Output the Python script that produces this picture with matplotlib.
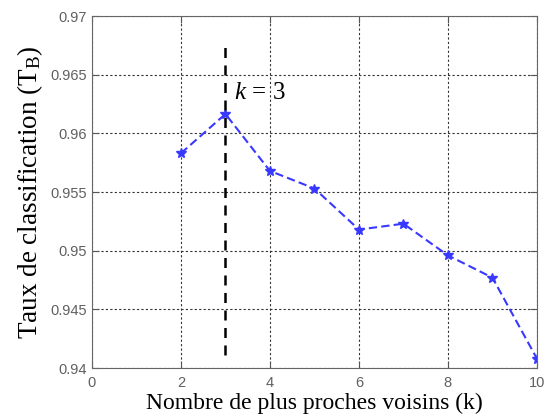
import matplotlib
matplotlib.use("Agg")
import matplotlib.pyplot as plt
import numpy as np

# valeurs
k_values = [2, 3, 4, 5, 6, 7, 8, 9, 10]
taux = [0.9583, 0.96165, 0.9568, 0.9553, 0.9518, 0.9523, 0.9496, 0.9477, 0.9408]
k_opt = 3
x_ticks = [0, 2, 4, 6, 8, 10]
y_ticks = [0.94, 0.945, 0.95, 0.955, 0.96, 0.965, 0.97]
y_tick_labels = ["0.94", "0.945", "0.95", "0.955", "0.96", "0.965", "0.97"]

plt.rcParams['mathtext.fontset'] = 'custom'
plt.rcParams['mathtext.rm'] = 'Liberation Serif'
plt.rcParams['mathtext.it'] = 'Liberation Serif:italic'

fig = plt.figure(figsize=(5.44, 4.18), dpi=100)
ax = fig.add_axes([0.169, 0.1196, 0.818, 0.842])

ax.plot(k_values, taux, linestyle='--', color='#3838ff', linewidth=1.5,
        marker='*', markersize=7, dashes=(4, 2))
ax.plot([k_opt, k_opt], [0.9411, 0.9677], color='black', linestyle='--',
        linewidth=1.8, dashes=(4, 3))
ax.text(3.2, 0.9634, r"$k\,=\,3$", fontsize=18, va='center', ha='left',
        family='Liberation Serif')

ax.set_xlim(0, 10)
ax.set_ylim(0.94, 0.97)
ax.set_xticks(x_ticks)
ax.set_yticks(y_ticks)
ax.set_yticklabels(y_tick_labels)
ax.grid(True, linestyle=(0, (2, 2)), color='#333333', linewidth=0.8)

ax.tick_params(direction='in', top=True, right=True, length=5,
               labelsize=10.5, labelcolor='#606060', color='#555555')
ax.tick_params(axis='x', pad=6)
for lbl in ax.get_xticklabels() + ax.get_yticklabels():
    lbl.set_family('Liberation Sans')
for s in ax.spines.values():
    s.set_color('#666666')

ax.set_xlabel("Nombre de plus proches voisins (k)", fontsize=17,
              family='Liberation Serif', labelpad=2)
ax.set_ylabel(r"Taux de classification (T$_{\rm B}$)", fontsize=19.5,
              family='Liberation Serif', labelpad=4)

fig.savefig("out.png", dpi=100)
